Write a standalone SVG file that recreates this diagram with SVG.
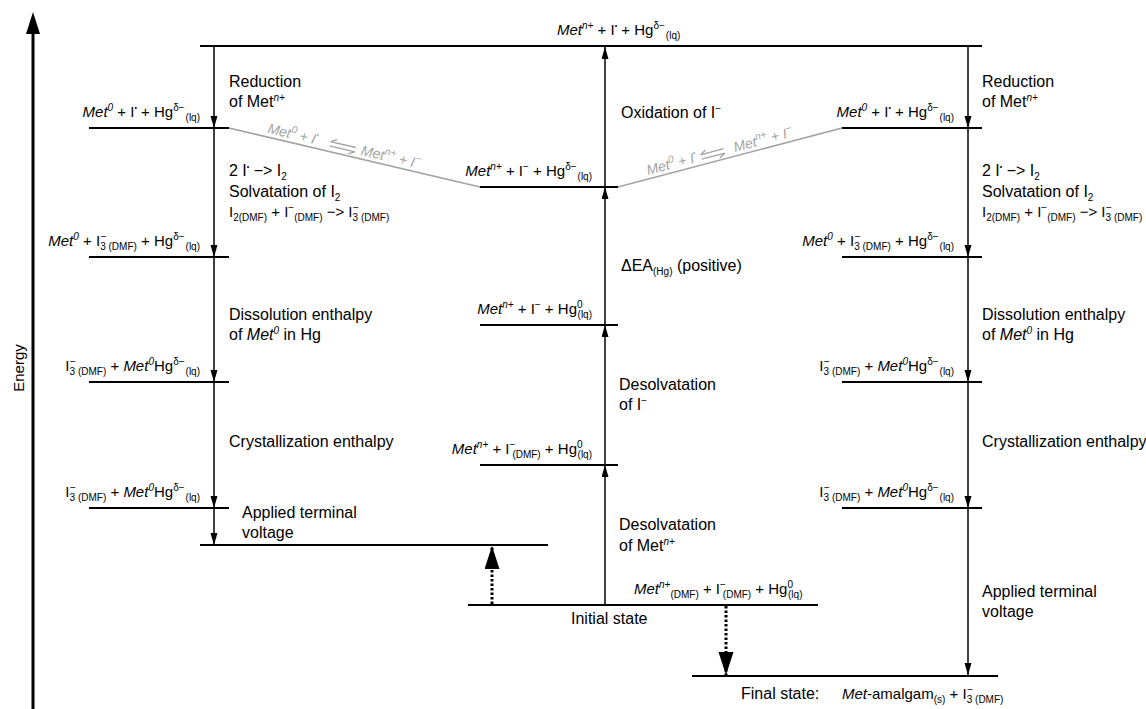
<svg xmlns="http://www.w3.org/2000/svg" width="1146" height="709" viewBox="0 0 1146 709">
  <defs>
    <style>
      text { font-family: "Liberation Sans", Arial, sans-serif; font-size: 16px; fill: #000; }
      text.f { font-size: 15px; }
      .i { font-style: italic; }
      .s { font-size: 10px; }
      .d { font-size: 7px; }
      text.g { fill: #a3a3a3; font-size: 14px; font-style: italic; }
      text.ax { font-size: 15px; }
      .lvl { stroke: #000; stroke-width: 2; fill: none; }
      .step { stroke: #000; stroke-width: 1.5; fill: none; marker-end: url(#head); }
      .dot { stroke: #000; stroke-width: 3; stroke-dasharray: 2.5 2; fill: none; marker-end: url(#bighead); }
      .gl { stroke: #a3a3a3; stroke-width: 1.6; fill: none; }
    </style>
    <marker id="head" markerUnits="userSpaceOnUse" markerWidth="12" markerHeight="8" refX="12" refY="3.5" orient="auto">
      <path d="M0,0 L12,3.5 L0,7 z" fill="#000"/>
    </marker>
    <marker id="bighead" markerUnits="userSpaceOnUse" markerWidth="24" markerHeight="16" refX="23" refY="7.5" orient="auto">
      <path d="M0,0 L23,7.5 L0,15 z" fill="#000"/>
    </marker>
  </defs>

  <!-- energy axis -->
  <g id="axis">
    <line x1="33" y1="709" x2="33" y2="32" stroke="#000" stroke-width="3"/>
    <path d="M26,34 L33,12 L40,34 z" fill="#000"/>
    <text class="ax" transform="translate(24,368) rotate(-90)" text-anchor="middle">Energy</text>
  </g>

  <!-- energy levels -->
  <g id="levels">
    <line class="lvl" x1="200" y1="46" x2="982" y2="46"/>
    <line class="lvl" x1="89" y1="128" x2="229" y2="128"/>
    <line class="lvl" x1="89" y1="257" x2="229" y2="257"/>
    <line class="lvl" x1="89" y1="382" x2="229" y2="382"/>
    <line class="lvl" x1="89" y1="508" x2="229" y2="508"/>
    <line class="lvl" x1="200" y1="545" x2="548" y2="545"/>
    <line class="lvl" x1="480" y1="187" x2="618" y2="187"/>
    <line class="lvl" x1="480" y1="325" x2="618" y2="325"/>
    <line class="lvl" x1="480" y1="465" x2="618" y2="465"/>
    <line class="lvl" x1="468" y1="605" x2="818" y2="605"/>
    <line class="lvl" x1="842" y1="128" x2="982" y2="128"/>
    <line class="lvl" x1="842" y1="257" x2="982" y2="257"/>
    <line class="lvl" x1="842" y1="382" x2="982" y2="382"/>
    <line class="lvl" x1="842" y1="508" x2="982" y2="508"/>
    <line class="lvl" x1="692" y1="676" x2="998" y2="676"/>
  </g>

  <!-- connectors -->
  <g id="connectors">
    <!-- left path (down) -->
    <line class="step" x1="214" y1="46" x2="214" y2="128"/>
    <line class="step" x1="214" y1="128" x2="214" y2="257"/>
    <line class="step" x1="214" y1="257" x2="214" y2="382"/>
    <line class="step" x1="214" y1="382" x2="214" y2="508"/>
    <line class="step" x1="214" y1="508" x2="214" y2="545"/>
    <!-- middle path (up) -->
    <line class="step" x1="605" y1="605" x2="605" y2="465"/>
    <line class="step" x1="605" y1="465" x2="605" y2="325"/>
    <line class="step" x1="605" y1="325" x2="605" y2="187"/>
    <line class="step" x1="605" y1="187" x2="605" y2="47"/>
    <!-- right path (down) -->
    <line class="step" x1="968" y1="46" x2="968" y2="128"/>
    <line class="step" x1="968" y1="128" x2="968" y2="257"/>
    <line class="step" x1="968" y1="257" x2="968" y2="382"/>
    <line class="step" x1="968" y1="382" x2="968" y2="508"/>
    <line class="step" x1="968" y1="508" x2="968" y2="675"/>
    <!-- net changes from the initial state -->
    <line class="dot" x1="492" y1="604" x2="492" y2="546"/>
    <line class="dot" x1="726" y1="606" x2="726" y2="675"/>
    <!-- redox equilibria -->
    <line class="gl" x1="229" y1="128" x2="480" y2="187"/>
    <line class="gl" x1="618" y1="187" x2="842" y2="128"/>
  </g>

  <!-- equilibrium labels along the grey lines -->
  <g id="eq-left" transform="translate(229,128) rotate(13.2)">
    <text class="g" x="38" y="-4">Met<tspan class="s" dy="-6">0</tspan><tspan dy="6"> + I</tspan><tspan class="d" dy="-7">•</tspan></text>
    <path d="M102,-10 L128,-10 M102,-10 L108,-13.5 M102,-5.5 L128,-5.5 M128,-5.5 L122,-2" stroke="#a3a3a3" stroke-width="1.3" fill="none"/>
    <text class="g" x="134" y="-4">Met<tspan class="s" dy="-6">n+</tspan><tspan dy="6"> + I</tspan><tspan class="s" dy="-6">−</tspan></text>
  </g>
  <g id="eq-right" transform="translate(618,187) rotate(-14.8)">
    <text class="g" x="32" y="-4">Met<tspan class="s" dy="-6">0</tspan><tspan dy="6"> + I</tspan><tspan class="d" dy="-7">•</tspan></text>
    <path d="M88,-10 L112,-10 M88,-10 L94,-13.5 M88,-5.5 L112,-5.5 M112,-5.5 L106,-2" stroke="#a3a3a3" stroke-width="1.3" fill="none"/>
    <text class="g" x="122" y="-4">Met<tspan class="s" dy="-6">n+</tspan><tspan dy="6"> + I</tspan><tspan class="s" dy="-6">−</tspan></text>
  </g>

  <!-- top level -->
  <g id="top-state">
    <text class="f" x="557" y="35"><tspan class="i">Met</tspan><tspan class="s i" dy="-6">n+</tspan><tspan dy="6"> + I</tspan><tspan class="d" dy="-7">•</tspan><tspan dy="7"> + Hg</tspan><tspan class="s" dy="-6">δ−</tspan><tspan class="s" dy="10" dx="1">(lq)</tspan></text>
  </g>

  <!-- left branch -->
  <g id="left-branch">
    <text class="f" x="200" y="117" text-anchor="end"><tspan class="i">Met</tspan><tspan class="s i" dy="-6">0</tspan><tspan dy="6"> + I</tspan><tspan class="d" dy="-7">•</tspan><tspan dy="7"> + Hg</tspan><tspan class="s" dy="-6">δ−</tspan><tspan class="s" dy="10" dx="1">(lq)</tspan></text>
    <text class="f" x="200" y="246" text-anchor="end"><tspan class="i">Met</tspan><tspan class="s i" dy="-6">0</tspan><tspan dy="6"> + I</tspan><tspan class="s" dy="4">3</tspan><tspan class="s" dy="-10" dx="-5">−</tspan><tspan class="s" dy="10" dx="2">(DMF)</tspan><tspan dy="-4"> + Hg</tspan><tspan class="s" dy="-6">δ−</tspan><tspan class="s" dy="10" dx="1">(lq)</tspan></text>
    <text class="f" x="200" y="371" text-anchor="end">I<tspan class="s" dy="4">3</tspan><tspan class="s" dy="-10" dx="-5">−</tspan><tspan class="s" dy="10" dx="2">(DMF)</tspan><tspan dy="-4"> + </tspan><tspan class="i">Met</tspan><tspan class="s i" dy="-6">0</tspan><tspan dy="6">Hg</tspan><tspan class="s" dy="-6">δ−</tspan><tspan class="s" dy="10" dx="1">(lq)</tspan></text>
    <text class="f" x="200" y="497" text-anchor="end">I<tspan class="s" dy="4">3</tspan><tspan class="s" dy="-10" dx="-5">−</tspan><tspan class="s" dy="10" dx="2">(DMF)</tspan><tspan dy="-4"> + </tspan><tspan class="i">Met</tspan><tspan class="s i" dy="-6">0</tspan><tspan dy="6">Hg</tspan><tspan class="s" dy="-6">δ−</tspan><tspan class="s" dy="10" dx="1">(lq)</tspan></text>

    <text x="229" y="87">Reduction</text>
    <text x="229" y="107">of Met<tspan class="s i" dy="-6">n+</tspan></text>
    <text x="229" y="176">2 I<tspan class="d" dy="-7">•</tspan><tspan dy="7"> −&gt; I</tspan><tspan class="s" dy="4">2</tspan></text>
    <text x="229" y="197">Solvatation of I<tspan class="s" dy="4">2</tspan></text>
    <text class="f" x="229" y="217">I<tspan class="s" dy="4">2(DMF)</tspan><tspan dy="-4"> + I</tspan><tspan class="s" dy="-6">−</tspan><tspan class="s" dy="10">(DMF)</tspan><tspan dy="-4"> −&gt; I</tspan><tspan class="s" dy="4">3</tspan><tspan class="s" dy="-10" dx="-5">−</tspan><tspan class="s" dy="10" dx="2">(DMF)</tspan></text>
    <text x="229" y="320">Dissolution enthalpy</text>
    <text x="229" y="340">of <tspan class="i">Met</tspan><tspan class="s i" dy="-6">0</tspan><tspan dy="6"> in Hg</tspan></text>
    <text x="229" y="447">Crystallization enthalpy</text>
    <text x="242" y="518">Applied terminal</text>
    <text x="242" y="538">voltage</text>
  </g>

  <!-- middle branch -->
  <g id="middle-branch">
    <text class="f" x="592" y="176" text-anchor="end"><tspan class="i">Met</tspan><tspan class="s i" dy="-6">n+</tspan><tspan dy="6"> + I</tspan><tspan class="s" dy="-6">−</tspan><tspan dy="6"> + Hg</tspan><tspan class="s" dy="-6">δ−</tspan><tspan class="s" dy="10" dx="1">(lq)</tspan></text>
    <text class="f" x="592" y="314" text-anchor="end"><tspan class="i">Met</tspan><tspan class="s i" dy="-6">n+</tspan><tspan dy="6"> + I</tspan><tspan class="s" dy="-6">−</tspan><tspan dy="6"> + Hg</tspan><tspan class="s" dy="-6">0</tspan><tspan class="s" dy="10" dx="-5">(lq)</tspan></text>
    <text class="f" x="592" y="454" text-anchor="end"><tspan class="i">Met</tspan><tspan class="s i" dy="-6">n+</tspan><tspan dy="6"> + I</tspan><tspan class="s" dy="-6">−</tspan><tspan class="s" dy="10" dx="-3">(DMF)</tspan><tspan dy="-4"> + Hg</tspan><tspan class="s" dy="-6">0</tspan><tspan class="s" dy="10" dx="-5">(lq)</tspan></text>

    <text x="621" y="118">Oxidation of I<tspan class="s" dy="-6">−</tspan></text>
    <text x="621" y="271">ΔEA<tspan class="s" dy="4">(Hg)</tspan><tspan dy="-4"> (positive)</tspan></text>
    <text x="619" y="390">Desolvatation</text>
    <text x="619" y="410">of I<tspan class="s" dy="-6">−</tspan></text>
    <text x="619" y="530">Desolvatation</text>
    <text x="619" y="551">of Met<tspan class="s i" dy="-6">n+</tspan></text>
  </g>

  <!-- initial state -->
  <g id="initial-state">
    <text class="f" x="634" y="594"><tspan class="i">Met</tspan><tspan class="s i" dy="-6">n+</tspan><tspan class="s" dy="10">(DMF)</tspan><tspan dy="-4"> + I</tspan><tspan class="s" dy="-6">−</tspan><tspan class="s" dy="10" dx="-3">(DMF)</tspan><tspan dy="-4"> + Hg</tspan><tspan class="s" dy="-6">0</tspan><tspan class="s" dy="10" dx="-5">(lq)</tspan></text>
    <text x="571" y="624">Initial state</text>
  </g>

  <!-- right branch -->
  <g id="right-branch">
    <text class="f" x="954" y="117" text-anchor="end"><tspan class="i">Met</tspan><tspan class="s i" dy="-6">0</tspan><tspan dy="6"> + I</tspan><tspan class="d" dy="-7">•</tspan><tspan dy="7"> + Hg</tspan><tspan class="s" dy="-6">δ−</tspan><tspan class="s" dy="10" dx="1">(lq)</tspan></text>
    <text class="f" x="954" y="246" text-anchor="end"><tspan class="i">Met</tspan><tspan class="s i" dy="-6">0</tspan><tspan dy="6"> + I</tspan><tspan class="s" dy="4">3</tspan><tspan class="s" dy="-10" dx="-5">−</tspan><tspan class="s" dy="10" dx="2">(DMF)</tspan><tspan dy="-4"> + Hg</tspan><tspan class="s" dy="-6">δ−</tspan><tspan class="s" dy="10" dx="1">(lq)</tspan></text>
    <text class="f" x="954" y="371" text-anchor="end">I<tspan class="s" dy="4">3</tspan><tspan class="s" dy="-10" dx="-5">−</tspan><tspan class="s" dy="10" dx="2">(DMF)</tspan><tspan dy="-4"> + </tspan><tspan class="i">Met</tspan><tspan class="s i" dy="-6">0</tspan><tspan dy="6">Hg</tspan><tspan class="s" dy="-6">δ−</tspan><tspan class="s" dy="10" dx="1">(lq)</tspan></text>
    <text class="f" x="954" y="497" text-anchor="end">I<tspan class="s" dy="4">3</tspan><tspan class="s" dy="-10" dx="-5">−</tspan><tspan class="s" dy="10" dx="2">(DMF)</tspan><tspan dy="-4"> + </tspan><tspan class="i">Met</tspan><tspan class="s i" dy="-6">0</tspan><tspan dy="6">Hg</tspan><tspan class="s" dy="-6">δ−</tspan><tspan class="s" dy="10" dx="1">(lq)</tspan></text>

    <text x="982" y="87">Reduction</text>
    <text x="982" y="107">of Met<tspan class="s i" dy="-6">n+</tspan></text>
    <text x="982" y="176">2 I<tspan class="d" dy="-7">•</tspan><tspan dy="7"> −&gt; I</tspan><tspan class="s" dy="4">2</tspan></text>
    <text x="982" y="197">Solvatation of I<tspan class="s" dy="4">2</tspan></text>
    <text class="f" x="982" y="217">I<tspan class="s" dy="4">2(DMF)</tspan><tspan dy="-4"> + I</tspan><tspan class="s" dy="-6">−</tspan><tspan class="s" dy="10">(DMF)</tspan><tspan dy="-4"> −&gt; I</tspan><tspan class="s" dy="4">3</tspan><tspan class="s" dy="-10" dx="-5">−</tspan><tspan class="s" dy="10" dx="2">(DMF)</tspan></text>
    <text x="982" y="320">Dissolution enthalpy</text>
    <text x="982" y="340">of <tspan class="i">Met</tspan><tspan class="s i" dy="-6">0</tspan><tspan dy="6"> in Hg</tspan></text>
    <text x="982" y="447">Crystallization enthalpy</text>
    <text x="982" y="597">Applied terminal</text>
    <text x="982" y="617">voltage</text>
  </g>

  <!-- final state -->
  <g id="final-state">
    <text x="741" y="699">Final state:</text>
    <text class="f" x="842" y="699"><tspan class="i">Met</tspan>-amalgam<tspan class="s" dy="4">(s)</tspan><tspan dy="-4"> + I</tspan><tspan class="s" dy="4">3</tspan><tspan class="s" dy="-10" dx="-5">−</tspan><tspan class="s" dy="10" dx="2">(DMF)</tspan></text>
  </g>
</svg>
